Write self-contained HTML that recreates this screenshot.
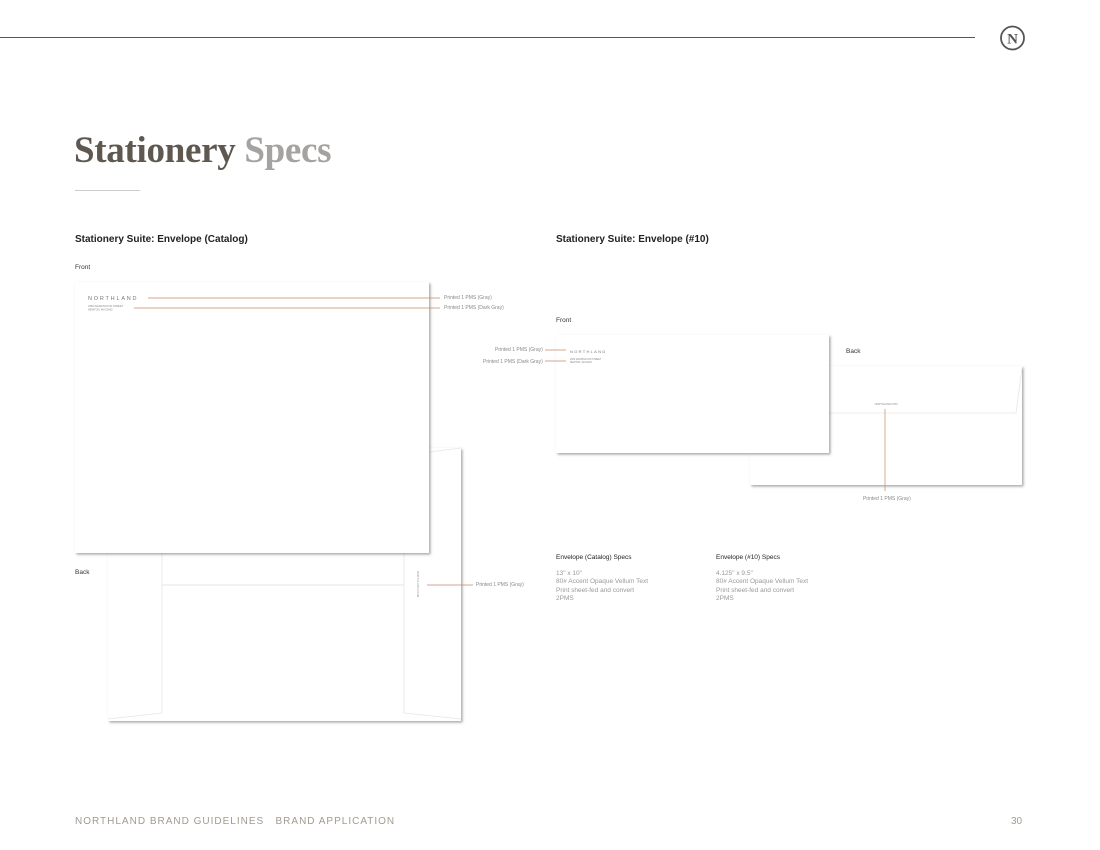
<!DOCTYPE html>
<html><head><style>
body{margin:0;width:1100px;height:850px;background:#fff;position:relative;overflow:hidden;font-family:"Liberation Sans",sans-serif}
.a{position:absolute;white-space:nowrap}
.h{font-size:10px;font-weight:bold;color:#222}
.s{font-size:6.5px;color:#333}
.l{font-size:5px;color:#888}
.sp{font-size:6.5px;color:#999;line-height:8.3px}
</style></head><body>
<div class="a" style="left:0;top:37px;width:975px;height:1px;background:#555"></div>
<svg class="a" style="left:999px;top:25px" width="27" height="26"><circle cx="13.5" cy="13" r="11.5" fill="none" stroke="#555" stroke-width="1.8"/><text x="13.5" y="18.5" text-anchor="middle" font-family="Liberation Serif" font-weight="bold" font-size="15" fill="#555">N</text></svg>
<div class="a" style="left:74px;top:129px;font-family:'Liberation Serif',serif;font-size:37px;font-weight:bold;letter-spacing:-0.3px;color:#5e5851">Stationery <span style="color:#a5a3a1">Specs</span></div>
<div class="a" style="left:75px;top:190px;width:65px;height:1px;background:#ccc"></div>
<div class="a h" style="left:75px;top:234px">Stationery Suite: Envelope (Catalog)</div>
<div class="a h" style="left:556px;top:234px">Stationery Suite: Envelope (#10)</div>
<div class="a s" style="left:75px;top:264px">Front</div>
<div class="a s" style="left:75px;top:569px">Back</div>
<div class="a s" style="left:556px;top:317px">Front</div>
<div class="a s" style="left:846px;top:348px">Back</div>
<svg class="a" style="left:0;top:0" width="1100" height="850">
<defs><filter id="sh" x="-5%" y="-5%" width="115%" height="115%"><feDropShadow dx="1.5" dy="1.5" stdDeviation="1.2" flood-color="#000" flood-opacity="0.35"/></filter></defs>
<rect x="108" y="448" width="353" height="273" fill="#fff" filter="url(#sh)"/>
<g stroke="#e6e6e6" stroke-width="0.8" fill="none">
<line x1="162" y1="553" x2="162" y2="713"/><line x1="404" y1="553" x2="404" y2="713"/>
<line x1="162" y1="585" x2="404" y2="585" stroke-width="1"/>
<line x1="108" y1="719" x2="162" y2="713"/><line x1="404" y1="713" x2="461" y2="719"/>
<line x1="430" y1="452" x2="461" y2="448"/></g>
<text transform="translate(417,584) rotate(90)" font-size="3" fill="#999" text-anchor="middle">NORTHLAND.COM</text>
<line x1="427" y1="585" x2="473" y2="585" stroke="#c08a66" stroke-width="0.7"/>
<rect x="75" y="282" width="354" height="271" fill="#fff" filter="url(#sh)"/>
<text x="88" y="300" font-size="5.5" letter-spacing="1.8" fill="#777">NORTHLAND</text>
<text x="88" y="307" font-size="2.6" fill="#888">2350 WASHINGTON STREET</text>
<text x="88" y="310.5" font-size="2.6" fill="#888">NEWTON, MA 02462</text>
<line x1="148" y1="298" x2="440" y2="298" stroke="#c08a66" stroke-width="0.7"/>
<line x1="134" y1="308" x2="440" y2="308" stroke="#c08a66" stroke-width="0.7"/>
<rect x="750" y="366" width="272" height="119" fill="#fff" filter="url(#sh)"/>
<polyline points="750,413 1016,413 1022,368" fill="none" stroke="#e6e6e6" stroke-width="0.8"/>
<text x="886" y="405" font-size="2.6" fill="#888" text-anchor="middle">NORTHLAND.COM</text>
<line x1="885" y1="409" x2="885" y2="491" stroke="#c08a66" stroke-width="0.7"/>
<rect x="556" y="335" width="273" height="118" fill="#fff" filter="url(#sh)"/>
<text x="570" y="353" font-size="4" letter-spacing="1.3" fill="#777">NORTHLAND</text>
<text x="570" y="360" font-size="2.3" fill="#888">2350 WASHINGTON STREET</text>
<text x="570" y="363" font-size="2.3" fill="#888">NEWTON, MA 02462</text>
<line x1="545" y1="350" x2="566" y2="350" stroke="#c08a66" stroke-width="0.8"/>
<line x1="545" y1="361" x2="566" y2="361" stroke="#c08a66" stroke-width="0.8"/>
</svg>
<div class="a l" style="left:444px;top:295px">Printed 1 PMS (Gray)</div>
<div class="a l" style="left:444px;top:305px">Printed 1 PMS (Dark Gray)</div>
<div class="a l" style="left:476px;top:582px">Printed 1 PMS (Gray)</div>
<div class="a l" style="left:495px;top:347px">Printed 1 PMS (Gray)</div>
<div class="a l" style="left:483px;top:359px">Printed 1 PMS (Dark Gray)</div>
<div class="a l" style="left:863px;top:496px">Printed 1 PMS (Gray)</div>
<div class="a s" style="left:556px;top:554px;color:#222">Envelope (Catalog) Specs</div>
<div class="a sp" style="left:556px;top:570px">13" x 10"<br>80# Accent Opaque Vellum Text<br>Print sheet-fed and convert<br>2PMS</div>
<div class="a s" style="left:716px;top:554px;color:#222">Envelope (#10) Specs</div>
<div class="a sp" style="left:716px;top:570px">4.125" x 9.5"<br>80# Accent Opaque Vellum Text<br>Print sheet-fed and convert<br>2PMS</div>
<div class="a" style="left:75px;top:816px;font-size:10px;letter-spacing:1px;color:#a39a8e">NORTHLAND BRAND GUIDELINES &nbsp;&nbsp;BRAND APPLICATION</div>
<div class="a" style="left:1011px;top:816px;font-size:10px;color:#a39a8e">30</div>
</body></html>
